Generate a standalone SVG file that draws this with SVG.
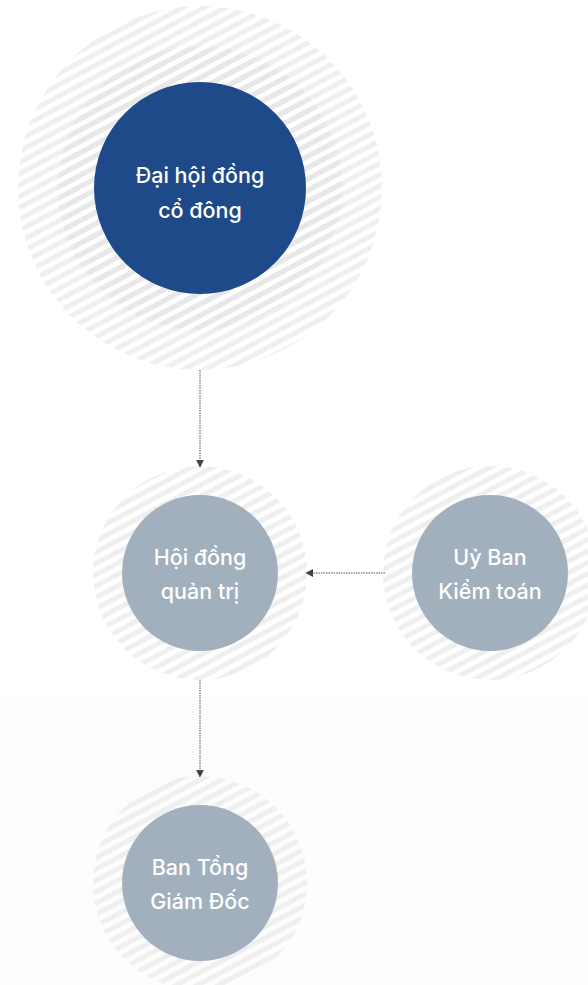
<svg xmlns="http://www.w3.org/2000/svg" width="588" height="985" viewBox="0 0 588 985">
<defs>
<pattern id="hatch" patternUnits="userSpaceOnUse" width="10" height="10" patternTransform="rotate(-28)">
<rect x="0" y="0" width="10" height="5" fill="#efefef"/>
</pattern>
<pattern id="hatch2" patternUnits="userSpaceOnUse" width="10" height="10" patternTransform="rotate(-28)">
<rect x="0" y="0" width="10" height="5" fill="#e8e8e8"/>
</pattern>
<marker id="arr" viewBox="0 0 10 10" refX="9" refY="5" markerWidth="8" markerHeight="8" orient="auto" markerUnits="userSpaceOnUse">
<path d="M0,0 L10,5 L0,10 z" fill="#444"/>
</marker>
<style>
.lbl{font-family:Inter,"Noto Sans",sans-serif;font-size:21.5px;font-weight:500;fill:#ffffff;text-anchor:middle}
.conn{stroke:#555;stroke-width:1;stroke-dasharray:1.5 1;fill:none}
</style>
</defs>
<rect width="588" height="985" fill="#ffffff"/>
<rect y="695" width="588" height="290" fill="#fdfdfd"/>
<g id="connectors">
<line class="conn" x1="200" y1="370" x2="200" y2="467" marker-end="url(#arr)"/>
<line class="conn" x1="200" y1="680" x2="200" y2="777" marker-end="url(#arr)"/>
<line class="conn" x1="385" y1="573" x2="306" y2="573" marker-end="url(#arr)"/>
</g>
<g id="dhdcd">
<circle cx="200" cy="188" r="182" fill="url(#hatch)"/>
<circle cx="200" cy="188" r="142" fill="url(#hatch2)"/>
<circle cx="200" cy="188" r="106" fill="#1e4a8a"/>
<text class="lbl" x="200" y="183">Đại hội đồng</text>
<text class="lbl" x="200" y="218">cổ đông</text>
</g>
<g id="hdqt">
<circle cx="200" cy="573" r="107" fill="url(#hatch)"/>
<circle cx="200" cy="573" r="78" fill="#a2afbd"/>
<text class="lbl" x="200" y="565">Hội đồng</text>
<text class="lbl" x="200" y="599">quản trị</text>
</g>
<g id="ubkt">
<circle cx="490" cy="573" r="107" fill="url(#hatch)"/>
<circle cx="490" cy="573" r="78" fill="#a2afbd"/>
<text class="lbl" x="490" y="565">Uỷ Ban</text>
<text class="lbl" x="490" y="599">Kiểm toán</text>
</g>
<g id="btgd">
<circle cx="200" cy="883" r="107" fill="url(#hatch)"/>
<circle cx="200" cy="883" r="78" fill="#a2afbd"/>
<text class="lbl" x="200" y="875">Ban Tổng</text>
<text class="lbl" x="200" y="909">Giám Đốc</text>
</g>
</svg>
